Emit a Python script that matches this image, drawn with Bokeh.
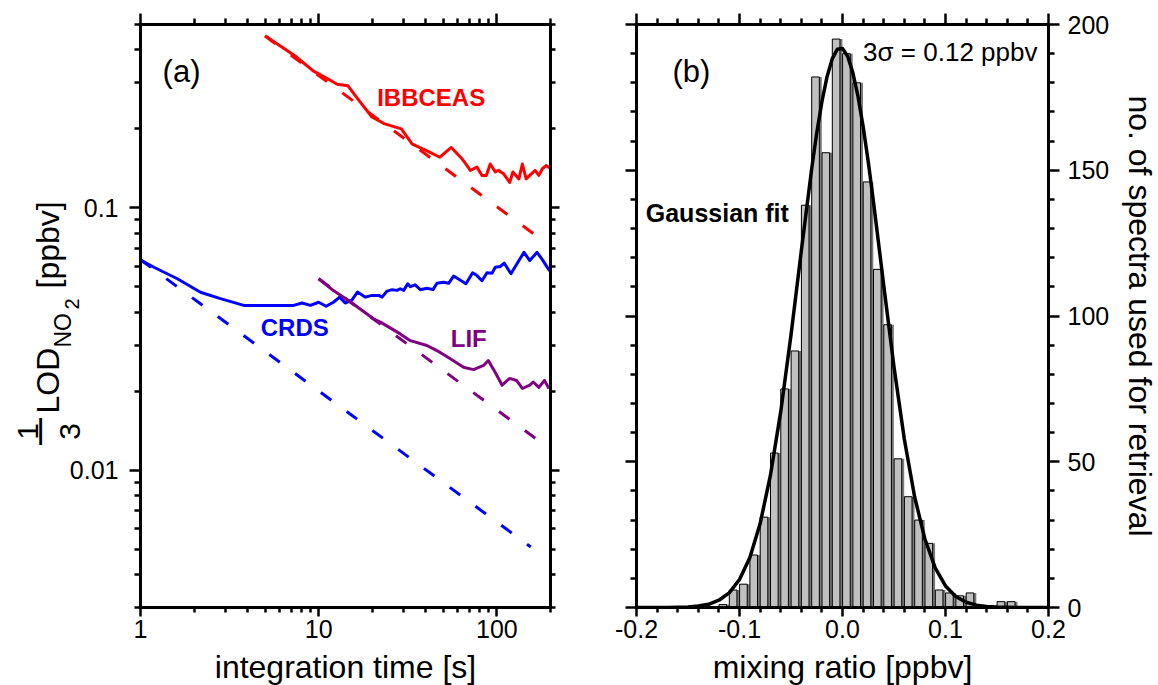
from bokeh.plotting import figure
from bokeh.models import (Range1d, FixedTicker, LogAxis, LinearAxis, Label,
                          CustomJSTickFormatter, ColumnDataSource)
from bokeh.layouts import row, column
from bokeh.transform import dodge
from bokeh.embed import file_html
from bokeh.resources import INLINE
import math

FONT = "Liberation Sans"

# ---------------- panel (a): 1/3 LOD vs integration time ----------------
ibb_t = [5.0, 7.35, 9.31, 11.3, 12.7, 14.6, 16.9, 19.9, 23.5, 29.1, 33.5, 40.6, 47.9, 55.5,
         63.7, 71.0, 77.3, 82.5, 87.3, 91.8, 98.0, 102, 109, 118, 123, 133, 139, 146, 153,
         164, 172, 180, 189, 198]
ibb_v = [0.453, 0.380, 0.333, 0.310, 0.296, 0.292, 0.256, 0.222, 0.209, 0.200, 0.175, 0.165,
         0.156, 0.170, 0.154, 0.139, 0.143, 0.133, 0.133, 0.147, 0.137, 0.139, 0.135, 0.125,
         0.137, 0.129, 0.147, 0.129, 0.133, 0.139, 0.133, 0.141, 0.145, 0.142]
ibb_fit_t = [5.0, 195.0]
ibb_fit_v = [0.452, 0.0724]

crds_t = [1.0, 1.19, 1.61, 2.17, 2.81, 3.80, 7.24, 8.07, 8.98, 10.0, 11.0, 12.1, 13.1, 14.1,
          15.4, 16.5, 18.3, 19.9, 21.7, 22.7, 24.2, 25.8, 27.5, 28.7, 30.0, 31.6, 32.7, 34.8,
          37.2, 40.5, 43.8, 46.1, 50.2, 53.6, 57.2, 61.8, 67.1, 73.1, 77.3, 82.5, 88.0, 93.9,
          98.0, 104.5, 110, 120, 133, 142, 153, 168, 180, 190, 198]
crds_v = [0.0632, 0.0594, 0.0537, 0.0477, 0.0451, 0.0425, 0.0425, 0.0434, 0.0425, 0.0437,
          0.0422, 0.0437, 0.0457, 0.0434, 0.0446, 0.0478, 0.0457, 0.0464, 0.0464, 0.0457,
          0.0482, 0.0488, 0.0485, 0.0492, 0.0485, 0.0514, 0.0501, 0.0509, 0.0488, 0.0494,
          0.0488, 0.0516, 0.0521, 0.0516, 0.0550, 0.0532, 0.0514, 0.0566, 0.0552, 0.0528,
          0.0566, 0.0564, 0.0594, 0.0598, 0.0616, 0.0561, 0.0630, 0.0677, 0.0630, 0.0677,
          0.0635, 0.0600, 0.0575]
crds_fit_t = [1.0, 155.0]
crds_fit_v = [0.0635, 0.0051]

lif_t = [10.0, 12.1, 15.1, 20.3, 22.2, 28.7, 32.7, 40.5, 46.1, 54.8, 65.0, 74.0, 84.2, 89.5,
         98, 107, 118, 129, 139, 153, 160, 172, 185, 196]
lif_v = [0.0537, 0.0484, 0.0438, 0.0378, 0.0367, 0.0331, 0.0312, 0.0299, 0.0286, 0.0266,
         0.0247, 0.0242, 0.0251, 0.0262, 0.0236, 0.0211, 0.0224, 0.0220, 0.0205, 0.0211,
         0.0217, 0.0207, 0.0220, 0.0205]
lif_fit_t = [10.0, 195.0]
lif_fit_v = [0.0537, 0.01216]

lod_x_major = [1, 10, 100]
lod_x_minor = [2, 3, 4, 5, 6, 7, 8, 9, 20, 30, 40, 50, 60, 70, 80, 90, 200]
lod_y_major = [0.01, 0.1]
lod_y_labels = ["0.01", "0.1"]
lod_y_minor = [0.003, 0.004, 0.005, 0.006, 0.007, 0.008, 0.009,
               0.02, 0.03, 0.04, 0.05, 0.06, 0.07, 0.08, 0.09, 0.2, 0.3, 0.4, 0.5]

# ---------------- panel (b): histogram ----------------
hist_x = [-0.115, -0.105, -0.095, -0.085, -0.075, -0.065, -0.055, -0.045, -0.035, -0.025,
          -0.015, -0.005, 0.005, 0.015, 0.025, 0.035, 0.045, 0.055, 0.065, 0.075, 0.085,
          0.095, 0.105, 0.115, 0.125, 0.155, 0.165]
hist_n = [1, 6, 8, 18, 31, 53, 75, 88, 138, 182, 156, 195, 190, 180, 146, 116, 97, 51, 38,
          30, 22, 6, 5, 4, 5, 2, 2]

fit_x = [-0.20, -0.19, -0.18, -0.17, -0.16, -0.15, -0.14, -0.13, -0.12, -0.11, -0.10, -0.09,
         -0.08, -0.07, -0.06, -0.05, -0.04, -0.03, -0.025, -0.02, -0.015, -0.01, -0.005, 0.0,
         0.005, 0.01, 0.015, 0.02, 0.025, 0.03, 0.04, 0.05, 0.06, 0.07, 0.08, 0.09, 0.10,
         0.11, 0.12, 0.13, 0.14, 0.15, 0.16, 0.17, 0.18, 0.19, 0.20]
fit_y = [0.0, 0.0, 0.01, 0.03, 0.08, 0.2, 0.5, 1.1, 2.5, 5.0, 9.6, 17.1, 28.7, 45.3, 67.1,
         93.5, 122.3, 150.3, 162.8, 173.5, 182.1, 188.2, 191.5, 191.8, 189.1, 183.5, 175.4,
         165.1, 152.9, 139.4, 110.6, 82.5, 57.8, 38.0, 23.5, 13.6, 7.4, 3.8, 1.8, 0.8, 0.35,
         0.14, 0.05, 0.02, 0.01, 0.0, 0.0]

hist_x_major = [-0.2, -0.1, 0.0, 0.1, 0.2]
hist_x_minor = [-0.18, -0.16, -0.14, -0.12, -0.08, -0.06, -0.04, -0.02,
                0.02, 0.04, 0.06, 0.08, 0.12, 0.14, 0.16, 0.18]
hist_y_major = [0, 50, 100, 150, 200]
hist_y_minor = [10, 20, 30, 40, 60, 70, 80, 90, 110, 120, 130, 140, 160, 170, 180, 190]

# ---------------- layout geometry (px) ----------------
TOP = 24          # border above both frames
FH = 583          # frame height
BOT = 42          # border below (tick labels)
STRIP = 36        # strip holding the x-axis titles
YLAB_W = 128      # strip holding the y-axis title of panel (a)

BLANK = CustomJSTickFormatter(code="return '';")


def style_axis(ax, ticker, formatter, show, tick_out, minor_out, standoff):
    ax.ticker = ticker
    ax.formatter = formatter if show else BLANK
    ax.axis_line_color = "black"
    ax.axis_line_width = 3
    ax.major_tick_line_color = "black"
    ax.major_tick_line_width = 2.5
    ax.minor_tick_line_color = "black"
    ax.minor_tick_line_width = 2.5
    ax.major_tick_in = 0
    ax.major_tick_out = tick_out
    ax.minor_tick_in = 0
    ax.minor_tick_out = minor_out
    ax.major_label_text_font = FONT
    ax.major_label_text_color = "black"
    if show:
        ax.major_label_text_font_size = "25px"
        ax.major_label_standoff = standoff
    else:
        ax.major_label_text_font_size = "0px"
        ax.major_label_standoff = 0


def txt(p, x, y, text, size, color="black", bold=False, align="left", baseline="middle",
        angle=0.0, xu="data", yu="data"):
    p.add_layout(Label(x=x, y=y, x_units=xu, y_units=yu, text=text, angle=angle,
                       text_font=FONT, text_font_size=size, text_color=color,
                       text_font_style="bold" if bold else "normal",
                       text_align=align, text_baseline=baseline))


def clean(p):
    p.outline_line_color = None
    p.grid.visible = False
    p.background_fill_color = "white"
    p.border_fill_color = "white"


# ---------------- y-title strip for panel (a) ----------------
ylab = figure(frame_width=YLAB_W, frame_height=FH, y_axis_type="log",
              x_range=Range1d(0, YLAB_W), y_range=Range1d(0.003, 0.5),
              x_axis_location=None, y_axis_location=None, title=None,
              output_backend="svg", toolbar_location=None,
              min_border_left=0, min_border_right=0, min_border_top=TOP,
              min_border_bottom=BOT)
clean(ylab)
for yv, lab in zip(lod_y_major, lod_y_labels):
    txt(ylab, 118, yv, lab, "25px", align="right", baseline="middle", xu="screen")
R = math.pi / 2
DX = -8
txt(ylab, 35 + DX, 176, "1", "30px", align="center", baseline="alphabetic", angle=R,
    xu="screen", yu="screen")
txt(ylab, 46.5 + DX, 176, "\u2014", "27px", bold=True, align="center", baseline="alphabetic",
    angle=R, xu="screen", yu="screen")
txt(ylab, 77 + DX, 176, "3", "30px", align="center", baseline="alphabetic", angle=R,
    xu="screen", yu="screen")
txt(ylab, 55 + DX, 194, "LOD", "32px", baseline="alphabetic", angle=R, xu="screen", yu="screen")
txt(ylab, 70 + DX, 260, "NO", "23px", baseline="alphabetic", angle=R, xu="screen", yu="screen")
txt(ylab, 79 + DX, 298, "2", "20px", baseline="alphabetic", angle=R, xu="screen", yu="screen")
txt(ylab, 55 + DX, 319, "[ppbv]", "32px", baseline="alphabetic", angle=R, xu="screen",
    yu="screen")

# ---------------- figure (a) ----------------
p1 = figure(frame_width=410, frame_height=FH, x_axis_type="log", y_axis_type="log",
            x_range=Range1d(1, 200), y_range=Range1d(0.003, 0.5), title=None,
            output_backend="svg", toolbar_location=None,
            min_border_left=12, min_border_right=43, min_border_top=TOP,
            min_border_bottom=BOT)
clean(p1)

num_fmt = CustomJSTickFormatter(code="return tick.toString();")
style_axis(p1.below[0], FixedTicker(ticks=lod_x_major, minor_ticks=lod_x_minor), num_fmt,
           True, 9, 5, 3)
style_axis(p1.left[0], FixedTicker(ticks=lod_y_major, minor_ticks=lod_y_minor), num_fmt,
           False, 11, 6, 0)
top1 = LogAxis()
p1.add_layout(top1, "above")
style_axis(top1, FixedTicker(ticks=lod_x_major, minor_ticks=lod_x_minor), num_fmt,
           False, 11, 6, 0)
right1 = LogAxis()
p1.add_layout(right1, "right")
style_axis(right1, FixedTicker(ticks=lod_y_major, minor_ticks=lod_y_minor), num_fmt,
           False, 9, 5, 0)

DASH = "13 19"
p1.line(ibb_fit_t, ibb_fit_v, color="#ff0000", line_width=3, line_dash=DASH)
p1.line(crds_fit_t, crds_fit_v, color="#0000ff", line_width=3, line_dash=DASH)
p1.line(lif_fit_t, lif_fit_v, color="#800080", line_width=3, line_dash=DASH)
p1.line(ibb_t, ibb_v, color="#ff0000", line_width=3, line_join="round")
p1.line(crds_t, crds_v, color="#0000ff", line_width=3, line_join="round")
p1.line(lif_t, lif_v, color="#800080", line_width=3, line_join="round")

txt(p1, 1.33, 0.330, "(a)", "31px")
txt(p1, 21.3, 0.2636, "IBBCEAS", "24px", color="#ff0000", bold=True)
txt(p1, 4.73, 0.0351, "CRDS", "24px", color="#0000ff", bold=True)
txt(p1, 55.1, 0.0319, "LIF", "24px", color="#800080", bold=True)

# ---------------- figure (b) ----------------
p2 = figure(frame_width=412, frame_height=FH, x_range=Range1d(-0.2, 0.2),
            y_range=Range1d(0, 200), y_axis_location="right", title=None,
            output_backend="svg", toolbar_location=None,
            min_border_left=43, min_border_right=110, min_border_top=TOP,
            min_border_bottom=BOT)
clean(p2)

fix_fmt = CustomJSTickFormatter(code="return tick.toFixed(1);")
int_fmt = CustomJSTickFormatter(code="return tick.toFixed(0);")
style_axis(p2.below[0], FixedTicker(ticks=hist_x_major, minor_ticks=hist_x_minor), fix_fmt,
           True, 9, 5, 3)
style_axis(p2.right[0], FixedTicker(ticks=hist_y_major, minor_ticks=hist_y_minor), int_fmt,
           True, 11, 6, 8)
ry = p2.right[0]
ry.axis_label = "no. of spectra used for retrieval"
ry.axis_label_text_font = FONT
ry.axis_label_text_font_size = "32px"
ry.axis_label_text_font_style = "normal"
ry.axis_label_text_color = "black"
ry.axis_label_standoff = 10
top2 = LinearAxis()
p2.add_layout(top2, "above")
style_axis(top2, FixedTicker(ticks=hist_x_major, minor_ticks=hist_x_minor), fix_fmt,
           False, 11, 6, 0)
left2 = LinearAxis()
p2.add_layout(left2, "left")
style_axis(left2, FixedTicker(ticks=hist_y_major, minor_ticks=hist_y_minor), int_fmt,
           False, 11, 6, 0)

hsrc = ColumnDataSource(dict(x=hist_x, n=hist_n))
p2.vbar(x="x", top="n", bottom=0, width=0.0098, source=hsrc,
        fill_color="#7a7a7a", line_color=None)
p2.vbar(x=dodge("x", -0.0012), top="n", bottom=0, width=0.0074, source=hsrc,
        fill_color="#c0c0c0", line_color="black", line_width=1)
p2.line(fit_x, fit_y, color="black", line_width=3.5, line_join="round")

txt(p2, -0.165, 183.9, "(b)", "31px")
txt(p2, 0.020, 190.5, "3\u03c3 = 0.12 ppbv", "26px")
txt(p2, -0.191, 135.4, "Gaussian fit", "25px", bold=True)

# ---------------- strips holding the x-axis titles ----------------
W_A = YLAB_W + 12 + 410 + 43
W_B = 43 + 412 + 110


def strip(width, cx, text):
    s = figure(width=width, height=STRIP, x_range=Range1d(0, 1), y_range=Range1d(0, 1),
               x_axis_location=None, y_axis_location=None, title=None,
               output_backend="svg", toolbar_location=None, min_border=0)
    clean(s)
    txt(s, cx, 19, text, "32px", align="center", baseline="alphabetic", xu="screen", yu="screen")
    return s


sa = strip(W_A, 345, "integration time [s]")
sb = strip(W_B, 842 - W_A, "mixing ratio [ppbv]")

layout = column(row(ylab, p1, p2), row(sa, sb))
open("out.html", "w").write(file_html(layout, INLINE, title="LOD NO2"))
